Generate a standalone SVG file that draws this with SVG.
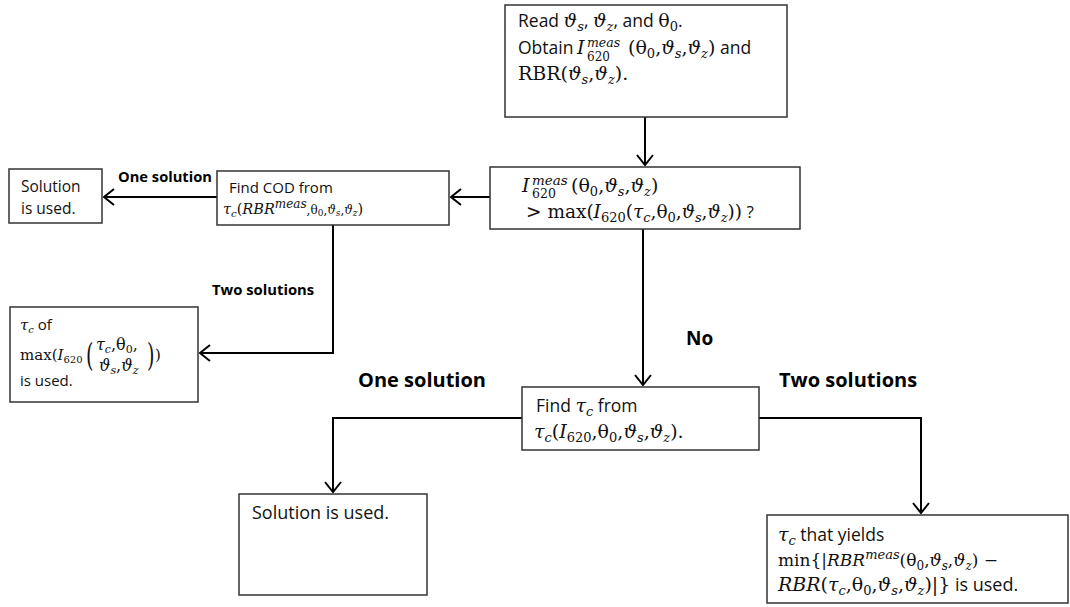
<svg xmlns="http://www.w3.org/2000/svg" width="1070" height="607" viewBox="0 0 1070 607">
<style>
.box{fill:#fff;stroke:#333;stroke-width:1.5}
.t{font-family:"Open Sans","Liberation Sans",sans-serif;fill:#111}
.m{font-family:"DejaVu Serif",serif;font-style:italic;fill:#111}
.r{font-family:"DejaVu Serif",serif;font-style:normal;fill:#111}
.lbl{font-family:"Open Sans","Liberation Sans",sans-serif;font-weight:bold;fill:#000}
.c{fill:none;stroke:#000;stroke-width:2}
</style>
<defs>
<marker id="ah" viewBox="0 0 12 18" refX="11" refY="9" markerWidth="12" markerHeight="18" markerUnits="userSpaceOnUse" orient="auto">
<path d="M1,1 L11,9 L1,17" fill="none" stroke="#000" stroke-width="2"/>
</marker>
</defs>
<rect width="1070" height="607" fill="#fff"/>

<g id="connectors">
<path class="c" d="M645,117 V165" marker-end="url(#ah)"/>
<path class="c" d="M490,197 H451" marker-end="url(#ah)"/>
<path class="c" d="M217,197 H104" marker-end="url(#ah)"/>
<path class="c" d="M333,225 V353 H200" marker-end="url(#ah)"/>
<path class="c" d="M643,229 V385" marker-end="url(#ah)"/>
<path class="c" d="M522,418 H333 V492" marker-end="url(#ah)"/>
<path class="c" d="M759,418 H921 V513" marker-end="url(#ah)"/>
</g>

<g id="labels">
<text class="lbl" x="118" y="182" font-size="14.7">One solution</text>
<text class="lbl" x="212" y="295" font-size="14.8">Two solutions</text>
<text class="lbl" x="686" y="345" font-size="19">No</text>
<text class="lbl" x="358" y="387" font-size="20">One solution</text>
<text class="lbl" x="779" y="387" font-size="20">Two solutions</text>
</g>

<g id="nodeA">
<rect class="box" x="505" y="5" width="282" height="112"/>
<text class="t" x="518" y="27" font-size="17.5">Read <tspan class="m" font-size="19">ϑ</tspan><tspan class="m" font-size="13" dy="4">s</tspan><tspan dy="-4">, </tspan><tspan class="m" font-size="19">ϑ</tspan><tspan class="m" font-size="13" dy="4">z</tspan><tspan dy="-4">, and </tspan><tspan class="r" font-size="19">θ</tspan><tspan class="r" font-size="13" dy="4">0</tspan><tspan dy="-4">.</tspan></text>
<text class="t" x="518" y="54" font-size="17.5">Obtain</text>
<text class="m" x="577" y="54" font-size="19">I</text>
<text class="m" x="587" y="47" font-size="12.5">meas</text>
<text class="r" x="587" y="61" font-size="12">620</text>
<text class="r" x="628" y="54" font-size="19">(θ<tspan font-size="13" dy="4">0</tspan><tspan dy="-4">,</tspan><tspan class="m">ϑ</tspan><tspan class="m" font-size="13" dy="4">s</tspan><tspan dy="-4">,</tspan><tspan class="m">ϑ</tspan><tspan class="m" font-size="13" dy="4">z</tspan><tspan dy="-4">)</tspan><tspan class="t" font-size="17.5"> and</tspan></text>
<text class="r" x="518" y="80" font-size="19">RBR(<tspan class="m">ϑ</tspan><tspan class="m" font-size="13" dy="4">s</tspan><tspan dy="-4">,</tspan><tspan class="m">ϑ</tspan><tspan class="m" font-size="13" dy="4">z</tspan><tspan dy="-4">).</tspan></text>
</g>

<g id="nodeB">
<rect class="box" x="490" y="167" width="310" height="62"/>
<text class="m" x="522" y="192" font-size="19">I</text>
<text class="m" x="532" y="185" font-size="13.5">meas</text>
<text class="r" x="532" y="198" font-size="12.5">620</text>
<text class="r" x="571" y="192" font-size="19">(θ<tspan font-size="13" dy="4">0</tspan><tspan dy="-4">,</tspan><tspan class="m">ϑ</tspan><tspan class="m" font-size="13" dy="4">s</tspan><tspan dy="-4">,</tspan><tspan class="m">ϑ</tspan><tspan class="m" font-size="13" dy="4">z</tspan><tspan dy="-4">)</tspan></text>
<text class="r" x="526" y="218" font-size="18.5">&gt; max(<tspan class="m">I</tspan><tspan font-size="13" dy="4">620</tspan><tspan dy="-4">(</tspan><tspan class="m">τ</tspan><tspan class="m" font-size="13" dy="4">c</tspan><tspan dy="-4">,θ</tspan><tspan font-size="13" dy="4">0</tspan><tspan dy="-4">,</tspan><tspan class="m">ϑ</tspan><tspan class="m" font-size="13" dy="4">s</tspan><tspan dy="-4">,</tspan><tspan class="m">ϑ</tspan><tspan class="m" font-size="13" dy="4">z</tspan><tspan dy="-4">))</tspan><tspan class="t" font-size="17"> ?</tspan></text>
</g>

<g id="nodeC">
<rect class="box" x="217" y="171" width="232" height="54"/>
<text class="t" x="229" y="193" font-size="15">Find COD from</text>
<text class="m" x="223" y="214" font-size="14.5">τ<tspan font-size="10" dy="3">c</tspan><tspan class="r" dy="-3">(</tspan>RBR<tspan font-size="12" dy="-6">meas</tspan><tspan class="r" font-size="12" dy="6">,θ</tspan><tspan class="r" font-size="9" dy="2">0</tspan><tspan class="r" font-size="12" dy="-2">,</tspan><tspan font-size="12">ϑ</tspan><tspan font-size="9" dy="2">s</tspan><tspan class="r" font-size="12" dy="-2">,</tspan><tspan font-size="12">ϑ</tspan><tspan font-size="9" dy="2">z</tspan><tspan class="r" dy="-2">)</tspan></text>
</g>

<g id="nodeD">
<rect class="box" x="9" y="169" width="93" height="54"/>
<text class="t" x="21" y="192" font-size="15.5">Solution</text>
<text class="t" x="21" y="214" font-size="15.5">is used.</text>
</g>

<g id="nodeE">
<rect class="box" x="10" y="307" width="188" height="95"/>
<text class="m" x="20" y="330" font-size="15">τ<tspan font-size="10" dy="3">c</tspan><tspan class="t" font-size="15" font-style="normal" dy="-3"> of</tspan></text>
<text class="r" x="20" y="360" font-size="15">max(<tspan class="m">I</tspan><tspan font-size="10" dy="3">620</tspan></text>
<text class="r" x="86" y="366" font-size="32" transform="translate(86,366) scale(0.6,1) translate(-86,-366)">(</text>
<text class="m" x="96" y="350" font-size="16">τ<tspan font-size="11" dy="3">c</tspan><tspan class="r" dy="-3">,θ</tspan><tspan class="r" font-size="11" dy="3">0</tspan><tspan class="r" dy="-3">,</tspan></text>
<text class="m" x="99" y="371" font-size="16">ϑ<tspan font-size="11" dy="3">s</tspan><tspan class="r" dy="-3">,</tspan>ϑ<tspan font-size="11" dy="3">z</tspan></text>
<text class="r" x="147" y="366" font-size="32" transform="translate(147,366) scale(0.6,1) translate(-147,-366)">)</text>
<text class="r" x="155" y="360" font-size="15">)</text>
<text class="t" x="20" y="386" font-size="15">is used.</text>
</g>

<g id="nodeF">
<rect class="box" x="522" y="387" width="237" height="63"/>
<text class="t" x="536" y="412" font-size="17.5">Find <tspan class="m" font-size="19">τ</tspan><tspan class="m" font-size="13" dy="4">c</tspan><tspan dy="-4"> from</tspan></text>
<text class="m" x="534" y="438" font-size="19">τ<tspan font-size="13" dy="4">c</tspan><tspan class="r" dy="-4">(</tspan>I<tspan class="r" font-size="13" dy="4">620</tspan><tspan class="r" dy="-4">,θ</tspan><tspan class="r" font-size="13" dy="4">0</tspan><tspan class="r" dy="-4">,</tspan>ϑ<tspan font-size="13" dy="4">s</tspan><tspan class="r" dy="-4">,</tspan>ϑ<tspan font-size="13" dy="4">z</tspan><tspan class="r" dy="-4">).</tspan></text>
</g>

<g id="nodeG">
<rect class="box" x="239" y="494" width="188" height="101"/>
<text class="t" x="252" y="519" font-size="18">Solution is used.</text>
</g>

<g id="nodeH">
<rect class="box" x="767" y="515" width="301" height="88"/>
<text class="m" x="778" y="541" font-size="19">τ<tspan font-size="13" dy="4">c</tspan><tspan class="t" font-size="17.5" font-style="normal" dy="-4"> that yields</tspan></text>
<text class="r" x="778" y="566" font-size="17">min{|<tspan class="m">RBR</tspan><tspan class="m" font-size="13" dy="-7">meas</tspan><tspan dy="7">(θ</tspan><tspan font-size="12" dy="4">0</tspan><tspan dy="-4">,</tspan><tspan class="m">ϑ</tspan><tspan class="m" font-size="12" dy="4">s</tspan><tspan dy="-4">,</tspan><tspan class="m">ϑ</tspan><tspan class="m" font-size="12" dy="4">z</tspan><tspan dy="-4">) −</tspan></text>
<text class="m" x="778" y="591" font-size="19">RBR<tspan class="r">(</tspan>τ<tspan font-size="13" dy="4">c</tspan><tspan class="r" dy="-4">,θ</tspan><tspan class="r" font-size="13" dy="4">0</tspan><tspan class="r" dy="-4">,</tspan>ϑ<tspan font-size="13" dy="4">s</tspan><tspan class="r" dy="-4">,</tspan>ϑ<tspan font-size="13" dy="4">z</tspan><tspan class="r" dy="-4">)|}</tspan><tspan class="t" font-size="18" font-style="normal"> is used.</tspan></text>
</g>
</svg>
